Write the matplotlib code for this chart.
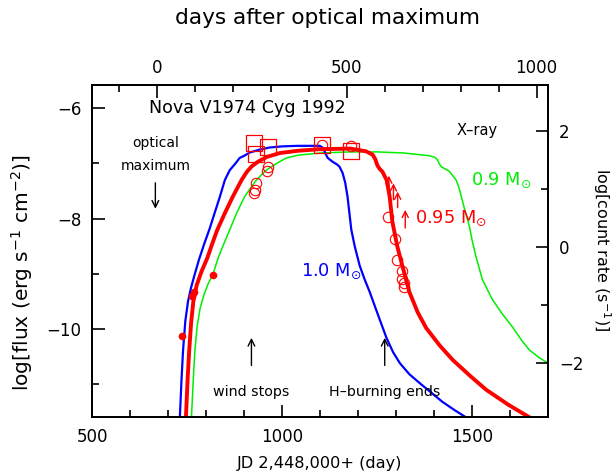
import numpy as np
import matplotlib
matplotlib.use("Agg")
import matplotlib.pyplot as plt

plt.rcParams['font.family'] = ['DejaVu Sans']
plt.rcParams['mathtext.fontset'] = 'dejavusans'

# Model light curves: JD-2448000 vs log flux
jd_10 = [730.5, 735, 739, 745, 752, 760, 770, 781, 795, 809, 822, 836, 849, 862, 878,
         888, 900, 915, 940, 967, 1000, 1041, 1099, 1108, 1114, 1120, 1133, 1145,
         1151, 1159, 1166, 1172, 1177, 1182, 1191, 1204, 1217, 1230, 1250, 1274,
         1292, 1310, 1335, 1362, 1392, 1422, 1454, 1484, 1500]
lf_10 = [-11.6, -10.9, -10.38, -9.85, -9.5, -9.25, -9.0, -8.74, -8.45, -8.18, -7.9,
         -7.6, -7.3, -7.12, -6.99, -6.9, -6.86, -6.8, -6.75, -6.71, -6.69, -6.68,
         -6.68, -6.72, -6.82, -6.9, -6.97, -7.02, -7.06, -7.17, -7.35, -7.6, -7.9,
         -8.2, -8.5, -8.85, -9.1, -9.32, -9.7, -10.15, -10.42, -10.62, -10.82,
         -10.98, -11.15, -11.32, -11.47, -11.6, -11.68]

jd_095 = [746.5, 751, 755, 760, 766, 775, 788, 803, 815, 828, 849, 870, 893, 907,
          920, 938, 960, 994, 1041, 1100, 1180, 1221, 1238, 1245, 1251, 1257, 1264,
          1275, 1283, 1290, 1303, 1317, 1335, 1357, 1379, 1415, 1449, 1495, 1537,
          1595, 1651, 1670]
lf_095 = [-11.6, -10.9, -10.4, -9.9, -9.5, -9.2, -8.95, -8.71, -8.47, -8.22, -7.9,
          -7.6, -7.3, -7.15, -7.05, -6.96, -6.88, -6.81, -6.77, -6.74, -6.73, -6.78,
          -6.84, -6.92, -7.04, -7.1, -7.15, -7.3, -7.6, -8.05, -8.5, -8.87, -9.33,
          -9.7, -9.98, -10.3, -10.56, -10.85, -11.1, -11.37, -11.6, -11.68]

jd_09 = [761, 766, 770, 776, 784, 794, 805, 818, 831, 840, 862, 880, 901, 932, 958,
         985, 1011, 1041, 1100, 1178, 1250, 1320, 1388, 1402, 1409, 1413, 1419, 1440,
         1458, 1466, 1474, 1483, 1493, 1501, 1510, 1527, 1553, 1580, 1606, 1630,
         1651, 1677, 1700]
lf_09 = [-11.6, -10.9, -10.4, -9.95, -9.62, -9.38, -9.18, -9.0, -8.72, -8.56, -8.2,
         -7.9, -7.6, -7.3, -7.12, -7.0, -6.9, -6.85, -6.81, -6.79, -6.79, -6.81,
         -6.86, -6.89, -6.93, -7.0, -7.06, -7.14, -7.3, -7.45, -7.66, -7.9, -8.14,
         -8.42, -8.68, -9.1, -9.46, -9.73, -9.96, -10.2, -10.38, -10.52, -10.62]

# Observations
opt_jd = [735, 762, 768, 818]
opt_lf = [-10.13, -9.41, -9.32, -9.02]

xr_jd = [925, 928, 931, 961, 963, 1104, 1182, 1278, 1296, 1302, 1315, 1316, 1320, 1322]
xr_lf = [-7.54, -7.48, -7.36, -7.13, -7.07, -6.66, -6.69, -7.97, -8.37, -8.75,
         -8.95, -9.1, -9.17, -9.24]

sq_jd = [926, 931, 962, 1105, 1182]
sq_lf = [-6.63, -6.83, -6.71, -6.66, -6.77]

# lower limits (arrows pointing up): base and tip
lim_jd = [1281, 1293, 1304, 1324]
lim_lo = [-7.52, -7.66, -7.8, -8.17]
lim_hi = [-7.22, -7.36, -7.51, -7.84]

t_max = 670  # optical maximum, JD-2448000

fig = plt.figure(figsize=(6.13, 4.76), dpi=100)
ax = fig.add_axes([0.1506, 0.1233, 0.7434, 0.6975])

ax.plot(jd_09, lf_09, color='#00ee00', lw=1.1, zorder=3)
ax.plot(jd_10, lf_10, color='#0000ff', lw=1.6, zorder=3)
ax.plot(jd_095, lf_095, color='#ff0000', lw=2.8, zorder=4)

ax.plot(opt_jd, opt_lf, 'o', color='#ff0000', ms=5.5, mec='none', zorder=5)
ax.plot(xr_jd, xr_lf, 'o', mfc='none', mec='#ff0000', mew=0.8, ms=7.5, zorder=5)
ax.plot(sq_jd, sq_lf, 's', mfc='none', mec='#ff0000', mew=0.9, ms=12, zorder=5)

for x, lo, hi in zip(lim_jd, lim_lo, lim_hi):
    ax.annotate('', xy=(x, hi), xytext=(x, lo),
                arrowprops=dict(arrowstyle='->', color='#ff0000', lw=1.0,
                                shrinkA=0, shrinkB=0, mutation_scale=11))

ax.set_xlim(500, 1700)
ax.set_ylim(-11.6, -5.583)

fs = 12
ax.set_xticks([500, 1000, 1500])
ax.set_xticks(np.arange(600, 1700, 100), minor=True)
ax.set_yticks([-6, -8, -10])
ax.set_yticks([-7, -9, -11], minor=True)
ax.tick_params(which='both', direction='in', labelsize=fs, width=1.2)
ax.tick_params(which='major', length=9, pad=8)
ax.tick_params(which='minor', length=5)
ax.tick_params(axis='y', which='both', right=False)
for s in ax.spines.values():
    s.set_linewidth(1.3)

top = ax.secondary_xaxis('top', functions=(lambda x: x - t_max, lambda d: d + t_max))
top.set_xticks([0, 500, 1000])
top.set_xticks(np.arange(-100, 1100, 100), minor=True)
top.tick_params(which='both', direction='in', labelsize=fs, width=1.2)
top.tick_params(which='major', length=9, pad=6)
top.tick_params(which='minor', length=5)
top.spines['top'].set_linewidth(1.3)

rax = ax.twinx()
rax.set_ylim(-2.94, 2.79)
rax.set_yticks([-2, 0, 2])
rax.set_yticks([-1, 1], minor=True)
rax.tick_params(which='both', direction='in', labelsize=fs, width=1.2)
rax.tick_params(which='major', length=9, pad=8)
rax.tick_params(which='minor', length=5)
for s in rax.spines.values():
    s.set_linewidth(1.3)

fig.text(0.534, 0.962, 'days after optical maximum', ha='center', va='center', fontsize=15.6)
fig.text(0.522, 0.027, 'JD 2,448,000+ (day)', ha='center', va='center', fontsize=11.6)
fig.text(0.036, 0.428, 'log[flux (erg s$^{-1}$ cm$^{-2}$)]', rotation=90,
         ha='center', va='center', fontsize=14.5)
fig.text(0.982, 0.476, 'log[count rate (s$^{-1}$)]', rotation=270,
         ha='center', va='center', fontsize=11.5)

ax.text(908, -6.0, 'Nova V1974 Cyg 1992', ha='center', va='center', fontsize=12.6)
ax.text(668, -6.63, 'optical', ha='center', va='center', fontsize=10)
ax.text(668, -7.05, 'maximum', ha='center', va='center', fontsize=10)
ax.annotate('', xy=(666, -7.82), xytext=(666, -7.35),
            arrowprops=dict(arrowstyle='->', color='k', lw=1.0, shrinkA=0, shrinkB=0,
                            mutation_scale=12))
ax.text(1514, -6.4, 'X\u2013ray', ha='center', va='center', fontsize=10.5)
ax.text(1498, -7.3, '0.9 M$_{\\odot}$', color='#00ee00', ha='left', va='center', fontsize=12.8)
ax.text(1349, -8.0, '0.95 M$_{\\odot}$', color='#ff0000', ha='left', va='center', fontsize=12.8)
ax.text(1209, -8.96, '1.0 M$_{\\odot}$', color='#0000ff', ha='right', va='center', fontsize=12.8)

for x, label in [(919, 'wind stops'), (1270, 'H\u2013burning ends')]:
    ax.annotate('', xy=(x, -10.16), xytext=(x, -10.66),
                arrowprops=dict(arrowstyle='->', color='k', lw=1.0, shrinkA=0, shrinkB=0,
                                mutation_scale=12))
    ax.text(x, -11.14, label, ha='center', va='center', fontsize=10.3)

fig.savefig('out.png', dpi=100)
